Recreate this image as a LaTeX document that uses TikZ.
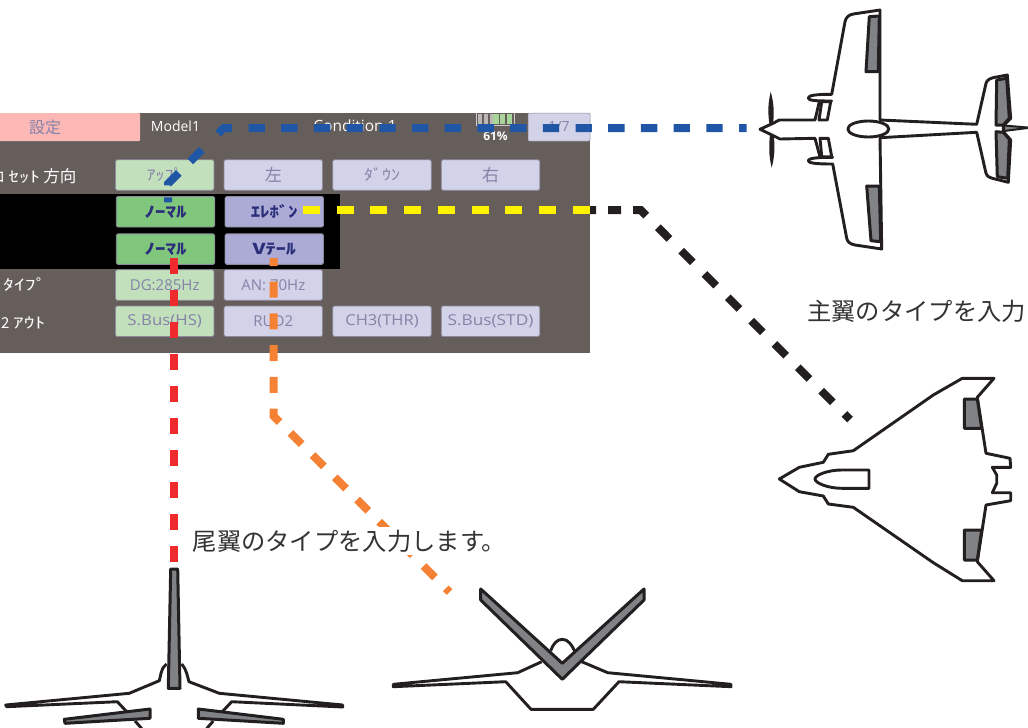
\documentclass[tikz,border=0pt]{standalone}
\usepackage{fontspec}
\setmainfont{Noto Sans CJK JP}
\newfontfamily\latinui{Open Sans}
\newcommand{\fs}[1]{\fontsize{#1}{#1}\selectfont}
\newcommand{\wide}[2]{\scalebox{#1}[1]{#2}}
\definecolor{panelc}{HTML}{655E5A}
\definecolor{palegreen}{HTML}{C2E0BC}
\definecolor{palelav}{HTML}{D2D2E8}
\definecolor{stronggreen}{HTML}{80C67D}
\definecolor{stronglav}{HTML}{ABABD6}
\definecolor{pinkc}{HTML}{FBB8B5}
\definecolor{btnedge}{HTML}{8E8A9E}
\definecolor{paletext}{HTML}{8682A8}
\definecolor{darktext}{HTML}{2B2F7A}
\definecolor{inkc}{HTML}{231F20}
\definecolor{wingfill}{HTML}{808285}
\definecolor{bluec}{HTML}{2056A6}
\definecolor{yellowc}{HTML}{FFF200}
\definecolor{redc}{HTML}{EE2A2E}
\definecolor{orangec}{HTML}{F58134}
\definecolor{cellgreen}{HTML}{A8D69A}
\tikzset{
  btn/.style={draw=btnedge,line width=0.8pt,rounded corners=1.5pt,minimum width=98.5pt,minimum height=30.5pt,inner sep=0pt,text=paletext,font=\latinui\fs{15}},
  gbtn/.style={btn,fill=palegreen},
  lbtn/.style={btn,fill=palelav},
  sgbtn/.style={btn,fill=stronggreen,text=darktext,font=\bfseries\fs{15}},
  slbtn/.style={btn,fill=stronglav,text=darktext,font=\bfseries\fs{15}},
  sidelabel/.style={text=white,inner sep=0pt,anchor=west,font=\fs{15}},
  toplabel/.style={text=white,inner sep=0pt,font=\latinui\fs{14}},
  note/.style={text=black!80,inner sep=0pt,font=\fs{24.3}},
  dashline/.style={line width=8pt},
  planeline/.style={draw=inkc,line width=2.9pt,line join=round,fill=white},
  planefine/.style={draw=inkc,line width=2.9pt,line join=round},
  wingpart/.style={draw=inkc,line width=3pt,line join=round,fill=wingfill},
}
\begin{document}
\begin{tikzpicture}[x=1pt,y=-1pt]
\useasboundingbox (0,0) rectangle (1028,728);
% panel
\fill[panelc] (0,113) rectangle (590,353);
\fill[pinkc,rounded corners=1pt] (-5,113) rectangle (140,141);
\node[inner sep=0pt,text=paletext,font=\fs{16}] (tabset) at (45,127) {設定};
\node[toplabel] (model) at (175.5,126) {Model1};
\node[toplabel,font=\latinui\fs{15.5}] (cond) at (355,126) {Condition 1};
% battery
\draw[line width=1pt,draw=white!80!black] (476,113) -- (476,125) -- (514,125) -- (514,113);
\fill[white!55!panelc] (478,113.5) rectangle (482,124);
\fill[white!55!panelc] (484,113.5) rectangle (488,124);
\fill[white!55!panelc] (490,113.5) rectangle (493,124);
\fill[cellgreen] (493,113.5) rectangle (499,124);
\fill[cellgreen] (500,113.5) rectangle (505,124);
\fill[cellgreen] (507,113.5) rectangle (512,124);
\node[toplabel,font=\latinui\bfseries\fs{12}] (batt) at (495.5,136) {61\%};
\node[fill=palelav,draw=btnedge,line width=0.5pt,rounded corners=1pt,minimum width=62pt,minimum height=28pt,inner sep=0pt,text=paletext,font=\latinui\fs{14}] (page) at (559,127) {1/7};
% row labels
\node[sidelabel] (lab1) at (-10,176) {ロ \wide{1.4}{ｾｯﾄ} {\fs{16.5}方向}};
\node[sidelabel] (lab2) at (3,285) {\wide{1.45}{ﾀｲﾌﾟ}};
\node[sidelabel] (lab3) at (1,323) {2 \wide{1.45}{ｱｳﾄ}};
% row 1
\node[gbtn,font=\fs{15}] (up) at (164.7,175) {\wide{1.2}{ｱｯﾌﾟ}};
\node[lbtn,font=\fs{17}] (left) at (273.3,175) {左};
\node[lbtn,font=\fs{15}] (down) at (382,175) {\wide{1.2}{ﾀﾞｳﾝ}};
\node[lbtn,font=\fs{17}] (right) at (490.5,175) {右};
% black band
\fill[black] (0,194) rectangle (339.5,269);
% rows 2-3
\node[sgbtn] (main) at (165.5,211.8) {\wide{1.4}{ﾉｰﾏﾙ}};
\node[slbtn] (elevon) at (274.3,211.8) {\wide{1.25}{ｴﾚﾎﾞﾝ}};
\node[sgbtn] (tail) at (165.5,249.1) {\wide{1.4}{ﾉｰﾏﾙ}};
\node[slbtn] (vtail) at (274.3,249.1) {\wide{1.35}{Vﾃｰﾙ}};
% row 4
\node[gbtn] (dg) at (164.7,285) {DG:285Hz};
\node[lbtn] (an) at (273.3,285) {AN: 70Hz};
% row 5
\node[gbtn] (sbushs) at (164.7,321.3) {\wide{1.12}{S.Bus(HS)}};
\node[lbtn] (rud) at (273.3,321.3) {RUD2};
\node[lbtn] (chthr) at (382,321.3) {\wide{1.1}{CH3(THR)}};
\node[lbtn] (sbusstd) at (490.5,321.3) {\wide{1.15}{S.Bus(STD)}};

% plane 1
\draw[planeline] (760,129.3) -- (773,123.3) -- (779.3,120) -- (815,120) -- (819.3,101.7)
  -- (831.7,101) .. controls (815,101) and (808.3,100.5) .. (808.3,98) .. controls (808.3,95.5) and (815,94.3) .. (831.7,94.3)
  -- (845,21.7) .. controls (846,17) and (849,14.8) .. (853.3,14) -- (880,10) -- (880,120)
  -- (976.7,124.3) -- (986,83.3) .. controls (987,79.5) and (991,78) .. (995,77.3) -- (1007.3,75) -- (1010.7,118.3) -- (1003.3,126)
  -- (1003.3,131.7) -- (1010.7,140) -- (1008.3,182.3) -- (995,179) .. controls (991,178) and (987,177) .. (986,173.3) -- (976.7,132.3)
  -- (880,137.7) -- (881.7,249) -- (855,245) .. controls (850,244) and (847.5,242) .. (846.7,238.3)
  -- (832.7,164) .. controls (815,164) and (808.3,163) .. (808.3,160.7) .. controls (808.3,158.5) and (815,157.3) .. (832.7,157.3)
  -- (820,157) -- (815,138.3) -- (780,139) -- (773,135.5) -- cycle;
\draw[planefine,fill=white] (821.7,101.7) -- (830.7,101.7) -- (827.3,120) -- (819,120) -- cycle;
\draw[planefine,fill=white] (820,138.3) -- (828.3,138.3) -- (831.7,156.7) -- (821.7,156.7) -- cycle;
\draw[wingpart] (869.3,16.7) -- (879.3,16) -- (878.3,71.7) -- (866,71.7) -- cycle;
\draw[wingpart] (866.7,186) -- (879.3,186) -- (880.7,241.7) -- (871,240.7) -- cycle;
\draw[wingpart] (996.7,80) -- (1006.7,78.3) -- (1009.3,118.3) -- (1003.3,125) -- (996,125) -- cycle;
\draw[wingpart] (996,131.7) -- (1003.3,132.3) -- (1009.3,139.3) -- (1007.7,178.3) -- (997.3,176.7) -- cycle;
\draw[planefine,fill=wingfill,line width=2pt] (1004,125.5) -- (1030,127.7) -- (1004,131) -- cycle;
\draw[planefine,fill=white] (868.3,129) ellipse [x radius=20.5pt,y radius=8pt];
\fill[inkc] (770.7,91.7) .. controls (767.5,105) and (768,115) .. (769.5,124) -- (773,124) .. controls (774,115) and (774.5,105) .. (770.7,91.7) -- cycle;
\fill[inkc] (771.7,167.7) .. controls (768.5,155) and (769,145) .. (770,134) -- (773.5,134) .. controls (775,145) and (775,155) .. (771.7,167.7) -- cycle;

% plane 2
\draw[planeline] (779.3,479) -- (799.3,467.3) -- (823.3,462.3) -- (828.3,454.3) -- (853.3,450.7) -- (933.3,395) -- (962.3,378.3) -- (994,378.3) -- (977.3,397.3) -- (986,453.3) -- (1010,458.3) -- (1010.7,467.3) -- (992.3,467.3) -- (996.7,475) -- (996.7,483.3) -- (992.3,492.7) -- (1010.7,492.7) -- (1010.7,500.7) -- (986,505) -- (977.3,561.7) -- (994,580.7) -- (962.3,580.7) -- (933.3,562.7) -- (853.3,507.3) -- (828.3,504) -- (823.3,496) -- (799.3,491.7) -- cycle;
\draw[wingpart] (964.3,399) -- (977.3,399) -- (981.7,428.3) -- (964.3,428.3) -- cycle;
\draw[wingpart] (964.3,530) -- (981.7,530) -- (977.3,560) -- (964.3,560) -- cycle;
\draw[planefine,fill=white] (869,470) -- (869,488.3) -- (841.7,488.3) .. controls (828,488.3) and (815,483) .. (815,479) .. controls (815,475) and (828,470) .. (841.7,470) -- cycle;

% plane 3
\draw[planefine] (166.7,664) .. controls (163,667) and (161.5,670) .. (161,673.3) -- (159.3,680.7) -- (129.3,693.3) -- (5.7,705) -- (6.7,706.7) -- (117.3,701.7) -- (126.7,711.7);
\draw[planefine] (181.7,664) .. controls (184,667) and (186,670) .. (186.7,673.3) -- (189,681.7) -- (219.3,693.3) -- (342.7,705) -- (342.7,707) -- (231.7,701.7) -- (222.3,711.7);
\draw[planefine] (135,721) -- (141.7,728.5);
\draw[planefine] (213.3,721) -- (206.7,728.5);
\draw[wingpart] (170.7,569) -- (177.7,569) -- (180,688.3) -- (168.3,688.3) -- cycle;
\draw[wingpart] (64.3,719.3) -- (150,709) -- (150,718.3) -- (65,723.3) -- cycle;
\draw[wingpart] (198.3,709) -- (283.3,719.3) -- (283.3,723.3) -- (198.3,718.3) -- cycle;

% plane 4
\draw[planefine] (550.7,650.7) .. controls (553,644) and (557,639.3) .. (562.3,639.3) .. controls (568,639.3) and (572,645) .. (575,651.7);
\draw[planefine] (541.7,661.7) -- (517.7,672.7) -- (393.3,684.3) -- (393.3,686.7) -- (505.7,681.7) -- (531,709.3) -- (593.3,709.3) -- (619,681.7) -- (731,686.7) -- (731,684.3) -- (607.7,672.7) -- (581.7,661.7);
\draw[wingpart] (480.7,589) -- (480.7,600) -- (562.3,679.3) -- (644,600) -- (644,589) -- (562.3,663.3) -- cycle;

% connector end points
\coordinate (blueA) at (746.5,128);
\coordinate (blueB) at (223.7,128);
\coordinate (blueC) at (168,183.7);
\coordinate (blueD) at (168,206);
\coordinate (yellowA) at (303,210);
\coordinate (yellowB) at (590,210);
\coordinate (blackB) at (640.6,210);
\coordinate (blackC) at (850,419.5);
\coordinate (redA) at (173.7,258);
\coordinate (redB) at (173.7,562);
\coordinate (orangeA) at (273.5,258);
\coordinate (orangeB) at (273.5,416);
\coordinate (orangeC) at (449.5,592);

% connectors
\draw[dashline,bluec,line cap=butt,dash pattern=on 7.5pt off 16.35pt
 on 16.35pt off 16.35pt on 16.35pt off 16.35pt on 16.35pt off 16.35pt on 16.35pt off 16.35pt on 16.35pt off 16.35pt
 on 16.35pt off 16.35pt on 16.35pt off 16.35pt on 16.35pt off 16.35pt on 16.35pt off 16.35pt on 16.35pt off 16.35pt
 on 16.35pt off 16.35pt on 16.35pt off 16.35pt on 16.35pt off 16.35pt on 16.35pt off 16.35pt on 16.35pt off 16.35pt
 on 16.35pt off 23pt on 16.3pt off 16.3pt on 17pt off 12pt on 5pt off 100pt] (blueA) -- (blueB) -- (blueC) -- (blueD);
\draw[dashline,inkc,dash pattern=on 6pt off 12pt on 13pt off 12pt on 15.5pt off 16.5pt
 on 16.5pt off 16.5pt on 16.5pt off 16.5pt on 16.5pt off 16.5pt on 16.5pt off 16.5pt
 on 16.5pt off 16.5pt on 16.5pt off 16.5pt on 16.5pt off 16.5pt on 16.5pt off 16.5pt on 16.5pt off 100pt] (yellowB) -- (blackB) -- (blackC);
\draw[dashline,yellowc,dash pattern=on 17pt off 16.7pt] (yellowA) -- (yellowB);
\draw[dashline,redc,dash pattern=on 16pt off 16pt] (redA) -- (redB);
\draw[dashline,orangec,dash pattern=on 8pt off 15.7pt on 16pt off 15.7pt on 16pt off 15.7pt on 16pt off 15.7pt on 16pt off 15.7pt on 16pt off 15.4pt
 on 16pt off 15.4pt on 16pt off 15.4pt on 16pt off 15.4pt on 16pt off 15.4pt on 16pt off 15.4pt on 16pt off 15.4pt on 16pt off 15.4pt on 16pt off 100pt] (orangeA) -- (orangeB) -- (orangeC);

% notes
\node[note,fill=white,anchor=west,minimum height=28pt] (tailnote) at (192.5,541) {尾翼のタイプを入力します。};
\node[note,anchor=west] (wingnote) at (807,311) {主翼のタイプを入力します。};
\end{tikzpicture}
\end{document}
